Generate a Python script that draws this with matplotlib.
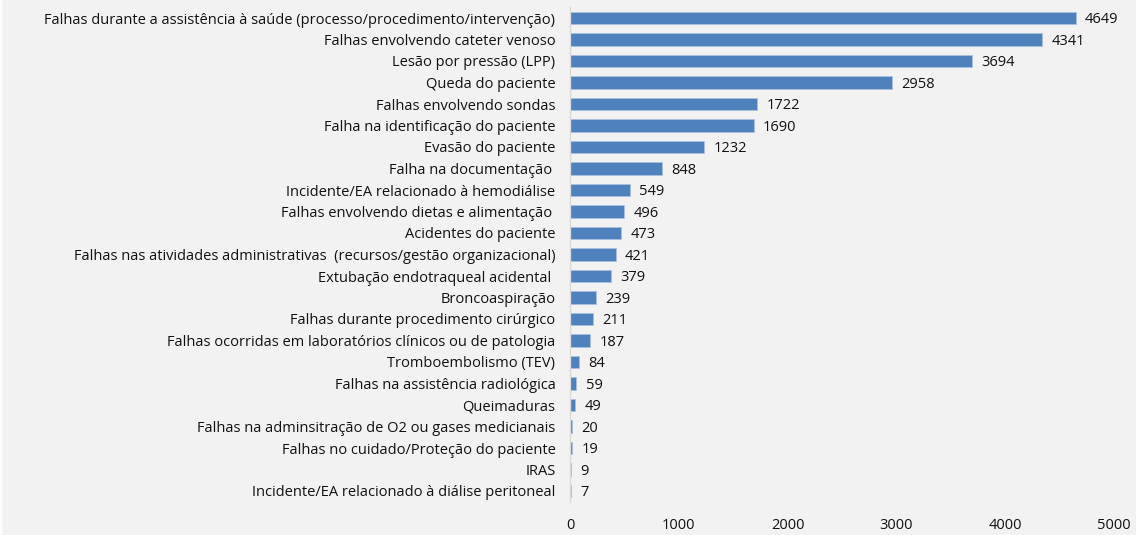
import matplotlib
matplotlib.use("Agg")
import matplotlib.pyplot as plt
from matplotlib.patches import Rectangle

categories = [
    "Falhas durante a assistência à saúde (processo/procedimento/intervenção)",
    "Falhas envolvendo cateter venoso",
    "Lesão por pressão (LPP)",
    "Queda do paciente",
    "Falhas envolvendo sondas",
    "Falha na identificação do paciente",
    "Evasão do paciente",
    "Falha na documentação ",
    "Incidente/EA relacionado à hemodiálise",
    "Falhas envolvendo dietas e alimentação ",
    "Acidentes do paciente",
    "Falhas nas atividades administrativas  (recursos/gestão organizacional)",
    "Extubação endotraqueal acidental ",
    "Broncoaspiração",
    "Falhas durante procedimento cirúrgico",
    "Falhas ocorridas em laboratórios clínicos ou de patologia",
    "Tromboembolismo (TEV)",
    "Falhas na assistência radiológica",
    "Queimaduras",
    "Falhas na adminsitração de O2 ou gases medicianais",
    "Falhas no cuidado/Proteção do paciente",
    "IRAS",
    "Incidente/EA relacionado à diálise peritoneal",
]
values = [4649, 4341, 3694, 2958, 1722, 1690, 1232, 848, 549, 496, 473, 421,
          379, 239, 211, 187, 84, 59, 49, 20, 19, 9, 7]
xticks = [0, 1000, 2000, 3000, 4000, 5000]

plt.rcParams['font.family'] = ['Open Sans', 'DejaVu Sans']

W, H = 1136, 535
FS = 10.5
fig = plt.figure(figsize=(W / 100, H / 100), dpi=100, facecolor='#F2F2F2')
fig.patches.append(Rectangle((0, 0), 2 / W, 1, transform=fig.transFigure,
                             facecolor='white', edgecolor='none', zorder=0))

ax = fig.add_axes([570 / W, 1 - 501.75 / H, (1114 - 570) / W, (501.75 - 7.25) / H])
ax.set_facecolor('#F2F2F2')

y = list(range(len(categories)))
ax.barh(y, values, height=0.6, color='#4F81BD', edgecolor='#A9C0DE', linewidth=0.6)
for yi, v in zip(y, values):
    ax.text(v + 85, yi + 0.08, str(v), va='center', ha='left', fontsize=FS, color='#111111')

ax.set_ylim(len(categories) - 0.5, -0.5)
ax.set_xlim(0, 5000)
ax.set_yticks(y)
ax.set_yticklabels(categories, fontsize=FS, color='#111111')
ax.set_xticks(xticks)
ax.set_xticklabels([str(t) for t in xticks], fontsize=FS, color='#111111')
ax.tick_params(axis='y', length=0, pad=10.5)
ax.tick_params(axis='x', length=0, pad=11.5)
for s in ['top', 'right', 'bottom']:
    ax.spines[s].set_visible(False)
ax.spines['left'].set_color('#D9D9D9')
ax.spines['left'].set_linewidth(1)

fig.savefig('out.png', dpi=100, facecolor=fig.get_facecolor())
